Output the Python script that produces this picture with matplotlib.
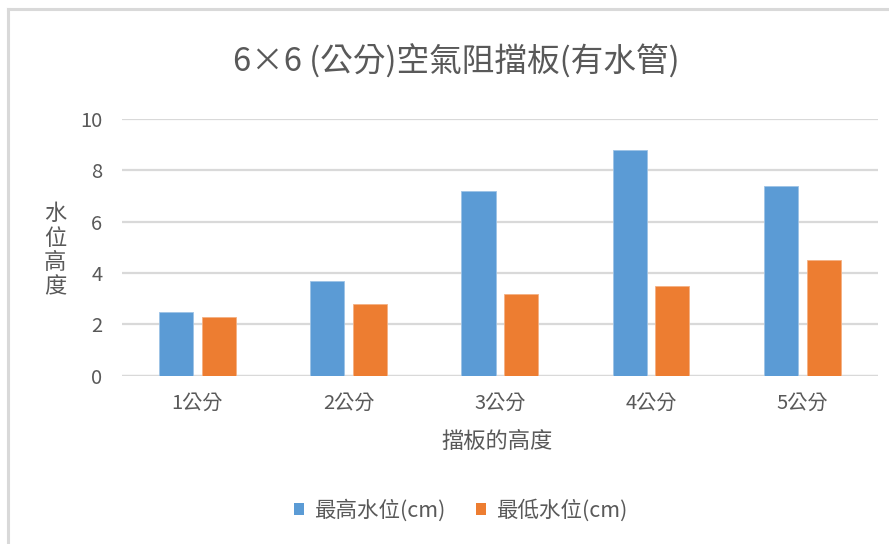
import matplotlib
matplotlib.use("Agg")
import matplotlib.pyplot as plt
from matplotlib.lines import Line2D
from matplotlib.patches import Patch
import numpy as np

plt.rcParams['font.family'] = ['Noto Sans CJK TC', 'DejaVu Sans']

categories = ["1公分", "2公分", "3公分", "4公分", "5公分"]
max_level = [2.5, 3.7, 7.2, 8.8, 7.4]
min_level = [2.3, 2.8, 3.2, 3.5, 4.5]
series_names = ["最高水位(cm)", "最低水位(cm)"]
yticks = [0, 2, 4, 6, 8, 10]

title = "6×6 (公分)空氣阻擋板(有水管)"
xlabel = "擋板的高度"
ylabel = "水位高度"

BLUE = "#5B9BD5"
ORANGE = "#ED7D31"
TEXT = "#595959"
GRID = "#D9D9D9"

fig = plt.figure(figsize=(8.89, 5.44), dpi=100)
fig.patch.set_facecolor("white")

# outer chart frame
fig.add_artist(Line2D([0.0085, 0.0085], [0.0, 0.984], color="#D9D9D9", lw=2.2,
                      transform=fig.transFigure))
fig.add_artist(Line2D([0.0085, 1.0], [0.984, 0.984], color="#D9D9D9", lw=2.2,
                      transform=fig.transFigure))

ax = fig.add_axes([0.1369, 0.3094, 0.8507, 0.4719])

x = np.arange(len(categories))
w = 0.225
off = 0.141
ax.bar(x - off, max_level, width=w, color=BLUE, edgecolor="#9DC3E6", linewidth=0.6, zorder=3)
ax.bar(x + off, min_level, width=w, color=ORANGE, edgecolor="#F4B183", linewidth=0.6, zorder=3)

ax.set_xlim(-0.5, len(categories) - 0.5)
ax.set_ylim(0, 10)
ax.set_yticks(yticks)
ax.set_yticklabels([str(v) for v in yticks])
ax.set_xticks(x)
ax.set_xticklabels(categories)
ax.yaxis.grid(True, color=GRID, lw=1.6, zorder=0)
ax.set_axisbelow(True)
for s in ax.spines.values():
    s.set_visible(False)
ax.tick_params(axis="both", length=0, colors=TEXT, labelsize=14.5)
ax.tick_params(axis="y", pad=14)
ax.tick_params(axis="x", pad=12)
ax.axhline(0, color=GRID, lw=1.6, zorder=1)

fig.text(0.513, 0.886, title, ha="center", va="center", fontsize=23.5, color=TEXT)
fig.text(0.559, 0.189, xlabel, ha="center", va="center", fontsize=16, color=TEXT)
fig.text(0.062, 0.54, "\n".join(ylabel), ha="center", va="center", fontsize=16,
         color=TEXT, linespacing=1.08)

handles = [Patch(facecolor=BLUE, edgecolor="none"), Patch(facecolor=ORANGE, edgecolor="none")]
fig.legend(handles, series_names, loc="center", bbox_to_anchor=(0.518, 0.0625),
           ncol=2, frameon=False, fontsize=15.5, labelcolor=TEXT,
           handlelength=0.5, handleheight=0.5, handletextpad=0.45, columnspacing=1.4)

fig.savefig("out.png", dpi=100, facecolor="white")
